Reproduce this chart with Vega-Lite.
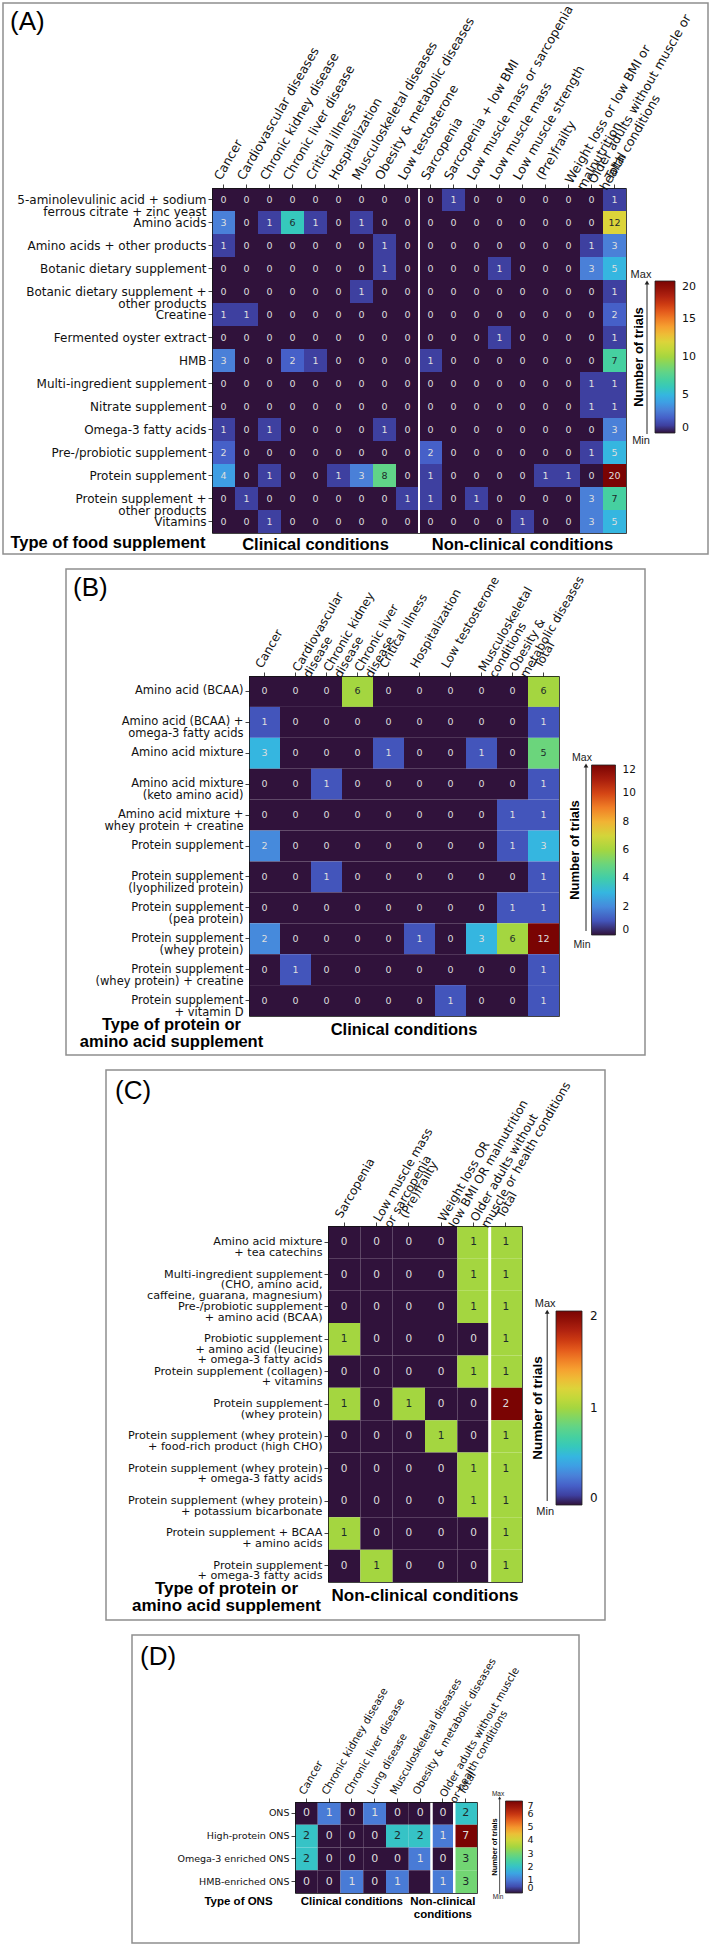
{
  "$schema": "https://vega.github.io/schema/vega-lite/v6.json",
  "background": "white",
  "padding": {"left": 2, "top": 2, "right": 2, "bottom": 0},
  "spacing": 15,
  "center": true,
  "bounds": "flush",
  "resolve": {"scale": {"color": "independent", "x": "independent", "y": "independent"}, "legend": {"color": "independent"}},
  "config": {
    "view": {"stroke": "#8f8f8f", "strokeWidth": 1.5},
    "axis": {"domainColor": "#111", "domainWidth": 0.8, "tickColor": "#111", "tickWidth": 0.8, "labelColor": "#111", "titleColor": "#000", "grid": false},
    "legend": {"labelColor": "#111", "titleColor": "#000"},
    "title": {"color": "#000"}
  },
  "datasets": {
    "A": [
      {"t":"5-aminolevulinic acid + sodium\nferrous citrate + zinc yeast","c":"Cancer","n":0},
      {"t":"5-aminolevulinic acid + sodium\nferrous citrate + zinc yeast","c":"Cardiovascular diseases","n":0},
      {"t":"5-aminolevulinic acid + sodium\nferrous citrate + zinc yeast","c":"Chronic kidney disease","n":0},
      {"t":"5-aminolevulinic acid + sodium\nferrous citrate + zinc yeast","c":"Chronic liver disease","n":0},
      {"t":"5-aminolevulinic acid + sodium\nferrous citrate + zinc yeast","c":"Critical illness","n":0},
      {"t":"5-aminolevulinic acid + sodium\nferrous citrate + zinc yeast","c":"Hospitalization","n":0},
      {"t":"5-aminolevulinic acid + sodium\nferrous citrate + zinc yeast","c":"Musculoskeletal diseases","n":0},
      {"t":"5-aminolevulinic acid + sodium\nferrous citrate + zinc yeast","c":"Obesity & metabolic diseases","n":0},
      {"t":"5-aminolevulinic acid + sodium\nferrous citrate + zinc yeast","c":"Low testosterone","n":0},
      {"t":"5-aminolevulinic acid + sodium\nferrous citrate + zinc yeast","c":"Sarcopenia","n":0},
      {"t":"5-aminolevulinic acid + sodium\nferrous citrate + zinc yeast","c":"Sarcopenia + low BMI","n":1},
      {"t":"5-aminolevulinic acid + sodium\nferrous citrate + zinc yeast","c":"Low muscle mass or sarcopenia","n":0},
      {"t":"5-aminolevulinic acid + sodium\nferrous citrate + zinc yeast","c":"Low muscle mass","n":0},
      {"t":"5-aminolevulinic acid + sodium\nferrous citrate + zinc yeast","c":"Low muscle strength","n":0},
      {"t":"5-aminolevulinic acid + sodium\nferrous citrate + zinc yeast","c":"(Pre)frailty","n":0},
      {"t":"5-aminolevulinic acid + sodium\nferrous citrate + zinc yeast","c":"Weight loss or low BMI or\nmalnutrition","n":0},
      {"t":"5-aminolevulinic acid + sodium\nferrous citrate + zinc yeast","c":"Older adults without muscle or\nhealth conditions","n":0},
      {"t":"5-aminolevulinic acid + sodium\nferrous citrate + zinc yeast","c":"Total","n":1},
      {"t":"Amino acids","c":"Cancer","n":3},
      {"t":"Amino acids","c":"Cardiovascular diseases","n":0},
      {"t":"Amino acids","c":"Chronic kidney disease","n":1},
      {"t":"Amino acids","c":"Chronic liver disease","n":6},
      {"t":"Amino acids","c":"Critical illness","n":1},
      {"t":"Amino acids","c":"Hospitalization","n":0},
      {"t":"Amino acids","c":"Musculoskeletal diseases","n":1},
      {"t":"Amino acids","c":"Obesity & metabolic diseases","n":0},
      {"t":"Amino acids","c":"Low testosterone","n":0},
      {"t":"Amino acids","c":"Sarcopenia","n":0},
      {"t":"Amino acids","c":"Sarcopenia + low BMI","n":0},
      {"t":"Amino acids","c":"Low muscle mass or sarcopenia","n":0},
      {"t":"Amino acids","c":"Low muscle mass","n":0},
      {"t":"Amino acids","c":"Low muscle strength","n":0},
      {"t":"Amino acids","c":"(Pre)frailty","n":0},
      {"t":"Amino acids","c":"Weight loss or low BMI or\nmalnutrition","n":0},
      {"t":"Amino acids","c":"Older adults without muscle or\nhealth conditions","n":0},
      {"t":"Amino acids","c":"Total","n":12},
      {"t":"Amino acids + other products","c":"Cancer","n":1},
      {"t":"Amino acids + other products","c":"Cardiovascular diseases","n":0},
      {"t":"Amino acids + other products","c":"Chronic kidney disease","n":0},
      {"t":"Amino acids + other products","c":"Chronic liver disease","n":0},
      {"t":"Amino acids + other products","c":"Critical illness","n":0},
      {"t":"Amino acids + other products","c":"Hospitalization","n":0},
      {"t":"Amino acids + other products","c":"Musculoskeletal diseases","n":0},
      {"t":"Amino acids + other products","c":"Obesity & metabolic diseases","n":1},
      {"t":"Amino acids + other products","c":"Low testosterone","n":0},
      {"t":"Amino acids + other products","c":"Sarcopenia","n":0},
      {"t":"Amino acids + other products","c":"Sarcopenia + low BMI","n":0},
      {"t":"Amino acids + other products","c":"Low muscle mass or sarcopenia","n":0},
      {"t":"Amino acids + other products","c":"Low muscle mass","n":0},
      {"t":"Amino acids + other products","c":"Low muscle strength","n":0},
      {"t":"Amino acids + other products","c":"(Pre)frailty","n":0},
      {"t":"Amino acids + other products","c":"Weight loss or low BMI or\nmalnutrition","n":0},
      {"t":"Amino acids + other products","c":"Older adults without muscle or\nhealth conditions","n":1},
      {"t":"Amino acids + other products","c":"Total","n":3},
      {"t":"Botanic dietary supplement","c":"Cancer","n":0},
      {"t":"Botanic dietary supplement","c":"Cardiovascular diseases","n":0},
      {"t":"Botanic dietary supplement","c":"Chronic kidney disease","n":0},
      {"t":"Botanic dietary supplement","c":"Chronic liver disease","n":0},
      {"t":"Botanic dietary supplement","c":"Critical illness","n":0},
      {"t":"Botanic dietary supplement","c":"Hospitalization","n":0},
      {"t":"Botanic dietary supplement","c":"Musculoskeletal diseases","n":0},
      {"t":"Botanic dietary supplement","c":"Obesity & metabolic diseases","n":1},
      {"t":"Botanic dietary supplement","c":"Low testosterone","n":0},
      {"t":"Botanic dietary supplement","c":"Sarcopenia","n":0},
      {"t":"Botanic dietary supplement","c":"Sarcopenia + low BMI","n":0},
      {"t":"Botanic dietary supplement","c":"Low muscle mass or sarcopenia","n":0},
      {"t":"Botanic dietary supplement","c":"Low muscle mass","n":1},
      {"t":"Botanic dietary supplement","c":"Low muscle strength","n":0},
      {"t":"Botanic dietary supplement","c":"(Pre)frailty","n":0},
      {"t":"Botanic dietary supplement","c":"Weight loss or low BMI or\nmalnutrition","n":0},
      {"t":"Botanic dietary supplement","c":"Older adults without muscle or\nhealth conditions","n":3},
      {"t":"Botanic dietary supplement","c":"Total","n":5},
      {"t":"Botanic dietary supplement +\nother products","c":"Cancer","n":0},
      {"t":"Botanic dietary supplement +\nother products","c":"Cardiovascular diseases","n":0},
      {"t":"Botanic dietary supplement +\nother products","c":"Chronic kidney disease","n":0},
      {"t":"Botanic dietary supplement +\nother products","c":"Chronic liver disease","n":0},
      {"t":"Botanic dietary supplement +\nother products","c":"Critical illness","n":0},
      {"t":"Botanic dietary supplement +\nother products","c":"Hospitalization","n":0},
      {"t":"Botanic dietary supplement +\nother products","c":"Musculoskeletal diseases","n":1},
      {"t":"Botanic dietary supplement +\nother products","c":"Obesity & metabolic diseases","n":0},
      {"t":"Botanic dietary supplement +\nother products","c":"Low testosterone","n":0},
      {"t":"Botanic dietary supplement +\nother products","c":"Sarcopenia","n":0},
      {"t":"Botanic dietary supplement +\nother products","c":"Sarcopenia + low BMI","n":0},
      {"t":"Botanic dietary supplement +\nother products","c":"Low muscle mass or sarcopenia","n":0},
      {"t":"Botanic dietary supplement +\nother products","c":"Low muscle mass","n":0},
      {"t":"Botanic dietary supplement +\nother products","c":"Low muscle strength","n":0},
      {"t":"Botanic dietary supplement +\nother products","c":"(Pre)frailty","n":0},
      {"t":"Botanic dietary supplement +\nother products","c":"Weight loss or low BMI or\nmalnutrition","n":0},
      {"t":"Botanic dietary supplement +\nother products","c":"Older adults without muscle or\nhealth conditions","n":0},
      {"t":"Botanic dietary supplement +\nother products","c":"Total","n":1},
      {"t":"Creatine","c":"Cancer","n":1},
      {"t":"Creatine","c":"Cardiovascular diseases","n":1},
      {"t":"Creatine","c":"Chronic kidney disease","n":0},
      {"t":"Creatine","c":"Chronic liver disease","n":0},
      {"t":"Creatine","c":"Critical illness","n":0},
      {"t":"Creatine","c":"Hospitalization","n":0},
      {"t":"Creatine","c":"Musculoskeletal diseases","n":0},
      {"t":"Creatine","c":"Obesity & metabolic diseases","n":0},
      {"t":"Creatine","c":"Low testosterone","n":0},
      {"t":"Creatine","c":"Sarcopenia","n":0},
      {"t":"Creatine","c":"Sarcopenia + low BMI","n":0},
      {"t":"Creatine","c":"Low muscle mass or sarcopenia","n":0},
      {"t":"Creatine","c":"Low muscle mass","n":0},
      {"t":"Creatine","c":"Low muscle strength","n":0},
      {"t":"Creatine","c":"(Pre)frailty","n":0},
      {"t":"Creatine","c":"Weight loss or low BMI or\nmalnutrition","n":0},
      {"t":"Creatine","c":"Older adults without muscle or\nhealth conditions","n":0},
      {"t":"Creatine","c":"Total","n":2},
      {"t":"Fermented oyster extract","c":"Cancer","n":0},
      {"t":"Fermented oyster extract","c":"Cardiovascular diseases","n":0},
      {"t":"Fermented oyster extract","c":"Chronic kidney disease","n":0},
      {"t":"Fermented oyster extract","c":"Chronic liver disease","n":0},
      {"t":"Fermented oyster extract","c":"Critical illness","n":0},
      {"t":"Fermented oyster extract","c":"Hospitalization","n":0},
      {"t":"Fermented oyster extract","c":"Musculoskeletal diseases","n":0},
      {"t":"Fermented oyster extract","c":"Obesity & metabolic diseases","n":0},
      {"t":"Fermented oyster extract","c":"Low testosterone","n":0},
      {"t":"Fermented oyster extract","c":"Sarcopenia","n":0},
      {"t":"Fermented oyster extract","c":"Sarcopenia + low BMI","n":0},
      {"t":"Fermented oyster extract","c":"Low muscle mass or sarcopenia","n":0},
      {"t":"Fermented oyster extract","c":"Low muscle mass","n":1},
      {"t":"Fermented oyster extract","c":"Low muscle strength","n":0},
      {"t":"Fermented oyster extract","c":"(Pre)frailty","n":0},
      {"t":"Fermented oyster extract","c":"Weight loss or low BMI or\nmalnutrition","n":0},
      {"t":"Fermented oyster extract","c":"Older adults without muscle or\nhealth conditions","n":0},
      {"t":"Fermented oyster extract","c":"Total","n":1},
      {"t":"HMB","c":"Cancer","n":3},
      {"t":"HMB","c":"Cardiovascular diseases","n":0},
      {"t":"HMB","c":"Chronic kidney disease","n":0},
      {"t":"HMB","c":"Chronic liver disease","n":2},
      {"t":"HMB","c":"Critical illness","n":1},
      {"t":"HMB","c":"Hospitalization","n":0},
      {"t":"HMB","c":"Musculoskeletal diseases","n":0},
      {"t":"HMB","c":"Obesity & metabolic diseases","n":0},
      {"t":"HMB","c":"Low testosterone","n":0},
      {"t":"HMB","c":"Sarcopenia","n":1},
      {"t":"HMB","c":"Sarcopenia + low BMI","n":0},
      {"t":"HMB","c":"Low muscle mass or sarcopenia","n":0},
      {"t":"HMB","c":"Low muscle mass","n":0},
      {"t":"HMB","c":"Low muscle strength","n":0},
      {"t":"HMB","c":"(Pre)frailty","n":0},
      {"t":"HMB","c":"Weight loss or low BMI or\nmalnutrition","n":0},
      {"t":"HMB","c":"Older adults without muscle or\nhealth conditions","n":0},
      {"t":"HMB","c":"Total","n":7},
      {"t":"Multi-ingredient supplement","c":"Cancer","n":0},
      {"t":"Multi-ingredient supplement","c":"Cardiovascular diseases","n":0},
      {"t":"Multi-ingredient supplement","c":"Chronic kidney disease","n":0},
      {"t":"Multi-ingredient supplement","c":"Chronic liver disease","n":0},
      {"t":"Multi-ingredient supplement","c":"Critical illness","n":0},
      {"t":"Multi-ingredient supplement","c":"Hospitalization","n":0},
      {"t":"Multi-ingredient supplement","c":"Musculoskeletal diseases","n":0},
      {"t":"Multi-ingredient supplement","c":"Obesity & metabolic diseases","n":0},
      {"t":"Multi-ingredient supplement","c":"Low testosterone","n":0},
      {"t":"Multi-ingredient supplement","c":"Sarcopenia","n":0},
      {"t":"Multi-ingredient supplement","c":"Sarcopenia + low BMI","n":0},
      {"t":"Multi-ingredient supplement","c":"Low muscle mass or sarcopenia","n":0},
      {"t":"Multi-ingredient supplement","c":"Low muscle mass","n":0},
      {"t":"Multi-ingredient supplement","c":"Low muscle strength","n":0},
      {"t":"Multi-ingredient supplement","c":"(Pre)frailty","n":0},
      {"t":"Multi-ingredient supplement","c":"Weight loss or low BMI or\nmalnutrition","n":0},
      {"t":"Multi-ingredient supplement","c":"Older adults without muscle or\nhealth conditions","n":1},
      {"t":"Multi-ingredient supplement","c":"Total","n":1},
      {"t":"Nitrate supplement","c":"Cancer","n":0},
      {"t":"Nitrate supplement","c":"Cardiovascular diseases","n":0},
      {"t":"Nitrate supplement","c":"Chronic kidney disease","n":0},
      {"t":"Nitrate supplement","c":"Chronic liver disease","n":0},
      {"t":"Nitrate supplement","c":"Critical illness","n":0},
      {"t":"Nitrate supplement","c":"Hospitalization","n":0},
      {"t":"Nitrate supplement","c":"Musculoskeletal diseases","n":0},
      {"t":"Nitrate supplement","c":"Obesity & metabolic diseases","n":0},
      {"t":"Nitrate supplement","c":"Low testosterone","n":0},
      {"t":"Nitrate supplement","c":"Sarcopenia","n":0},
      {"t":"Nitrate supplement","c":"Sarcopenia + low BMI","n":0},
      {"t":"Nitrate supplement","c":"Low muscle mass or sarcopenia","n":0},
      {"t":"Nitrate supplement","c":"Low muscle mass","n":0},
      {"t":"Nitrate supplement","c":"Low muscle strength","n":0},
      {"t":"Nitrate supplement","c":"(Pre)frailty","n":0},
      {"t":"Nitrate supplement","c":"Weight loss or low BMI or\nmalnutrition","n":0},
      {"t":"Nitrate supplement","c":"Older adults without muscle or\nhealth conditions","n":1},
      {"t":"Nitrate supplement","c":"Total","n":1},
      {"t":"Omega-3 fatty acids","c":"Cancer","n":1},
      {"t":"Omega-3 fatty acids","c":"Cardiovascular diseases","n":0},
      {"t":"Omega-3 fatty acids","c":"Chronic kidney disease","n":1},
      {"t":"Omega-3 fatty acids","c":"Chronic liver disease","n":0},
      {"t":"Omega-3 fatty acids","c":"Critical illness","n":0},
      {"t":"Omega-3 fatty acids","c":"Hospitalization","n":0},
      {"t":"Omega-3 fatty acids","c":"Musculoskeletal diseases","n":0},
      {"t":"Omega-3 fatty acids","c":"Obesity & metabolic diseases","n":1},
      {"t":"Omega-3 fatty acids","c":"Low testosterone","n":0},
      {"t":"Omega-3 fatty acids","c":"Sarcopenia","n":0},
      {"t":"Omega-3 fatty acids","c":"Sarcopenia + low BMI","n":0},
      {"t":"Omega-3 fatty acids","c":"Low muscle mass or sarcopenia","n":0},
      {"t":"Omega-3 fatty acids","c":"Low muscle mass","n":0},
      {"t":"Omega-3 fatty acids","c":"Low muscle strength","n":0},
      {"t":"Omega-3 fatty acids","c":"(Pre)frailty","n":0},
      {"t":"Omega-3 fatty acids","c":"Weight loss or low BMI or\nmalnutrition","n":0},
      {"t":"Omega-3 fatty acids","c":"Older adults without muscle or\nhealth conditions","n":0},
      {"t":"Omega-3 fatty acids","c":"Total","n":3},
      {"t":"Pre-/probiotic supplement","c":"Cancer","n":2},
      {"t":"Pre-/probiotic supplement","c":"Cardiovascular diseases","n":0},
      {"t":"Pre-/probiotic supplement","c":"Chronic kidney disease","n":0},
      {"t":"Pre-/probiotic supplement","c":"Chronic liver disease","n":0},
      {"t":"Pre-/probiotic supplement","c":"Critical illness","n":0},
      {"t":"Pre-/probiotic supplement","c":"Hospitalization","n":0},
      {"t":"Pre-/probiotic supplement","c":"Musculoskeletal diseases","n":0},
      {"t":"Pre-/probiotic supplement","c":"Obesity & metabolic diseases","n":0},
      {"t":"Pre-/probiotic supplement","c":"Low testosterone","n":0},
      {"t":"Pre-/probiotic supplement","c":"Sarcopenia","n":2},
      {"t":"Pre-/probiotic supplement","c":"Sarcopenia + low BMI","n":0},
      {"t":"Pre-/probiotic supplement","c":"Low muscle mass or sarcopenia","n":0},
      {"t":"Pre-/probiotic supplement","c":"Low muscle mass","n":0},
      {"t":"Pre-/probiotic supplement","c":"Low muscle strength","n":0},
      {"t":"Pre-/probiotic supplement","c":"(Pre)frailty","n":0},
      {"t":"Pre-/probiotic supplement","c":"Weight loss or low BMI or\nmalnutrition","n":0},
      {"t":"Pre-/probiotic supplement","c":"Older adults without muscle or\nhealth conditions","n":1},
      {"t":"Pre-/probiotic supplement","c":"Total","n":5},
      {"t":"Protein supplement","c":"Cancer","n":4},
      {"t":"Protein supplement","c":"Cardiovascular diseases","n":0},
      {"t":"Protein supplement","c":"Chronic kidney disease","n":1},
      {"t":"Protein supplement","c":"Chronic liver disease","n":0},
      {"t":"Protein supplement","c":"Critical illness","n":0},
      {"t":"Protein supplement","c":"Hospitalization","n":1},
      {"t":"Protein supplement","c":"Musculoskeletal diseases","n":3},
      {"t":"Protein supplement","c":"Obesity & metabolic diseases","n":8},
      {"t":"Protein supplement","c":"Low testosterone","n":0},
      {"t":"Protein supplement","c":"Sarcopenia","n":1},
      {"t":"Protein supplement","c":"Sarcopenia + low BMI","n":0},
      {"t":"Protein supplement","c":"Low muscle mass or sarcopenia","n":0},
      {"t":"Protein supplement","c":"Low muscle mass","n":0},
      {"t":"Protein supplement","c":"Low muscle strength","n":0},
      {"t":"Protein supplement","c":"(Pre)frailty","n":1},
      {"t":"Protein supplement","c":"Weight loss or low BMI or\nmalnutrition","n":1},
      {"t":"Protein supplement","c":"Older adults without muscle or\nhealth conditions","n":0},
      {"t":"Protein supplement","c":"Total","n":20},
      {"t":"Protein supplement +\nother products","c":"Cancer","n":0},
      {"t":"Protein supplement +\nother products","c":"Cardiovascular diseases","n":1},
      {"t":"Protein supplement +\nother products","c":"Chronic kidney disease","n":0},
      {"t":"Protein supplement +\nother products","c":"Chronic liver disease","n":0},
      {"t":"Protein supplement +\nother products","c":"Critical illness","n":0},
      {"t":"Protein supplement +\nother products","c":"Hospitalization","n":0},
      {"t":"Protein supplement +\nother products","c":"Musculoskeletal diseases","n":0},
      {"t":"Protein supplement +\nother products","c":"Obesity & metabolic diseases","n":0},
      {"t":"Protein supplement +\nother products","c":"Low testosterone","n":1},
      {"t":"Protein supplement +\nother products","c":"Sarcopenia","n":1},
      {"t":"Protein supplement +\nother products","c":"Sarcopenia + low BMI","n":0},
      {"t":"Protein supplement +\nother products","c":"Low muscle mass or sarcopenia","n":1},
      {"t":"Protein supplement +\nother products","c":"Low muscle mass","n":0},
      {"t":"Protein supplement +\nother products","c":"Low muscle strength","n":0},
      {"t":"Protein supplement +\nother products","c":"(Pre)frailty","n":0},
      {"t":"Protein supplement +\nother products","c":"Weight loss or low BMI or\nmalnutrition","n":0},
      {"t":"Protein supplement +\nother products","c":"Older adults without muscle or\nhealth conditions","n":3},
      {"t":"Protein supplement +\nother products","c":"Total","n":7},
      {"t":"Vitamins","c":"Cancer","n":0},
      {"t":"Vitamins","c":"Cardiovascular diseases","n":0},
      {"t":"Vitamins","c":"Chronic kidney disease","n":1},
      {"t":"Vitamins","c":"Chronic liver disease","n":0},
      {"t":"Vitamins","c":"Critical illness","n":0},
      {"t":"Vitamins","c":"Hospitalization","n":0},
      {"t":"Vitamins","c":"Musculoskeletal diseases","n":0},
      {"t":"Vitamins","c":"Obesity & metabolic diseases","n":0},
      {"t":"Vitamins","c":"Low testosterone","n":0},
      {"t":"Vitamins","c":"Sarcopenia","n":0},
      {"t":"Vitamins","c":"Sarcopenia + low BMI","n":0},
      {"t":"Vitamins","c":"Low muscle mass or sarcopenia","n":0},
      {"t":"Vitamins","c":"Low muscle mass","n":0},
      {"t":"Vitamins","c":"Low muscle strength","n":1},
      {"t":"Vitamins","c":"(Pre)frailty","n":0},
      {"t":"Vitamins","c":"Weight loss or low BMI or\nmalnutrition","n":0},
      {"t":"Vitamins","c":"Older adults without muscle or\nhealth conditions","n":3},
      {"t":"Vitamins","c":"Total","n":5}
    ],
    "B": [
      {"t":"Amino acid (BCAA)","c":"Cancer","n":0},
      {"t":"Amino acid (BCAA)","c":"Cardiovascular\ndisease","n":0},
      {"t":"Amino acid (BCAA)","c":"Chronic kidney\ndisease","n":0},
      {"t":"Amino acid (BCAA)","c":"Chronic liver\ndisease","n":6},
      {"t":"Amino acid (BCAA)","c":"Critical illness","n":0},
      {"t":"Amino acid (BCAA)","c":"Hospitalization","n":0},
      {"t":"Amino acid (BCAA)","c":"Low testosterone","n":0},
      {"t":"Amino acid (BCAA)","c":"Musculoskeletal\nconditions","n":0},
      {"t":"Amino acid (BCAA)","c":"Obesity &\nmetabolic diseases","n":0},
      {"t":"Amino acid (BCAA)","c":"Total","n":6},
      {"t":"Amino acid (BCAA) +\nomega-3 fatty acids","c":"Cancer","n":1},
      {"t":"Amino acid (BCAA) +\nomega-3 fatty acids","c":"Cardiovascular\ndisease","n":0},
      {"t":"Amino acid (BCAA) +\nomega-3 fatty acids","c":"Chronic kidney\ndisease","n":0},
      {"t":"Amino acid (BCAA) +\nomega-3 fatty acids","c":"Chronic liver\ndisease","n":0},
      {"t":"Amino acid (BCAA) +\nomega-3 fatty acids","c":"Critical illness","n":0},
      {"t":"Amino acid (BCAA) +\nomega-3 fatty acids","c":"Hospitalization","n":0},
      {"t":"Amino acid (BCAA) +\nomega-3 fatty acids","c":"Low testosterone","n":0},
      {"t":"Amino acid (BCAA) +\nomega-3 fatty acids","c":"Musculoskeletal\nconditions","n":0},
      {"t":"Amino acid (BCAA) +\nomega-3 fatty acids","c":"Obesity &\nmetabolic diseases","n":0},
      {"t":"Amino acid (BCAA) +\nomega-3 fatty acids","c":"Total","n":1},
      {"t":"Amino acid mixture","c":"Cancer","n":3},
      {"t":"Amino acid mixture","c":"Cardiovascular\ndisease","n":0},
      {"t":"Amino acid mixture","c":"Chronic kidney\ndisease","n":0},
      {"t":"Amino acid mixture","c":"Chronic liver\ndisease","n":0},
      {"t":"Amino acid mixture","c":"Critical illness","n":1},
      {"t":"Amino acid mixture","c":"Hospitalization","n":0},
      {"t":"Amino acid mixture","c":"Low testosterone","n":0},
      {"t":"Amino acid mixture","c":"Musculoskeletal\nconditions","n":1},
      {"t":"Amino acid mixture","c":"Obesity &\nmetabolic diseases","n":0},
      {"t":"Amino acid mixture","c":"Total","n":5},
      {"t":"Amino acid mixture\n(keto amino acid)","c":"Cancer","n":0},
      {"t":"Amino acid mixture\n(keto amino acid)","c":"Cardiovascular\ndisease","n":0},
      {"t":"Amino acid mixture\n(keto amino acid)","c":"Chronic kidney\ndisease","n":1},
      {"t":"Amino acid mixture\n(keto amino acid)","c":"Chronic liver\ndisease","n":0},
      {"t":"Amino acid mixture\n(keto amino acid)","c":"Critical illness","n":0},
      {"t":"Amino acid mixture\n(keto amino acid)","c":"Hospitalization","n":0},
      {"t":"Amino acid mixture\n(keto amino acid)","c":"Low testosterone","n":0},
      {"t":"Amino acid mixture\n(keto amino acid)","c":"Musculoskeletal\nconditions","n":0},
      {"t":"Amino acid mixture\n(keto amino acid)","c":"Obesity &\nmetabolic diseases","n":0},
      {"t":"Amino acid mixture\n(keto amino acid)","c":"Total","n":1},
      {"t":"Amino acid mixture +\nwhey protein + creatine","c":"Cancer","n":0},
      {"t":"Amino acid mixture +\nwhey protein + creatine","c":"Cardiovascular\ndisease","n":0},
      {"t":"Amino acid mixture +\nwhey protein + creatine","c":"Chronic kidney\ndisease","n":0},
      {"t":"Amino acid mixture +\nwhey protein + creatine","c":"Chronic liver\ndisease","n":0},
      {"t":"Amino acid mixture +\nwhey protein + creatine","c":"Critical illness","n":0},
      {"t":"Amino acid mixture +\nwhey protein + creatine","c":"Hospitalization","n":0},
      {"t":"Amino acid mixture +\nwhey protein + creatine","c":"Low testosterone","n":0},
      {"t":"Amino acid mixture +\nwhey protein + creatine","c":"Musculoskeletal\nconditions","n":0},
      {"t":"Amino acid mixture +\nwhey protein + creatine","c":"Obesity &\nmetabolic diseases","n":1},
      {"t":"Amino acid mixture +\nwhey protein + creatine","c":"Total","n":1},
      {"t":"Protein supplement","c":"Cancer","n":2},
      {"t":"Protein supplement","c":"Cardiovascular\ndisease","n":0},
      {"t":"Protein supplement","c":"Chronic kidney\ndisease","n":0},
      {"t":"Protein supplement","c":"Chronic liver\ndisease","n":0},
      {"t":"Protein supplement","c":"Critical illness","n":0},
      {"t":"Protein supplement","c":"Hospitalization","n":0},
      {"t":"Protein supplement","c":"Low testosterone","n":0},
      {"t":"Protein supplement","c":"Musculoskeletal\nconditions","n":0},
      {"t":"Protein supplement","c":"Obesity &\nmetabolic diseases","n":1},
      {"t":"Protein supplement","c":"Total","n":3},
      {"t":"Protein supplement\n(lyophilized protein)","c":"Cancer","n":0},
      {"t":"Protein supplement\n(lyophilized protein)","c":"Cardiovascular\ndisease","n":0},
      {"t":"Protein supplement\n(lyophilized protein)","c":"Chronic kidney\ndisease","n":1},
      {"t":"Protein supplement\n(lyophilized protein)","c":"Chronic liver\ndisease","n":0},
      {"t":"Protein supplement\n(lyophilized protein)","c":"Critical illness","n":0},
      {"t":"Protein supplement\n(lyophilized protein)","c":"Hospitalization","n":0},
      {"t":"Protein supplement\n(lyophilized protein)","c":"Low testosterone","n":0},
      {"t":"Protein supplement\n(lyophilized protein)","c":"Musculoskeletal\nconditions","n":0},
      {"t":"Protein supplement\n(lyophilized protein)","c":"Obesity &\nmetabolic diseases","n":0},
      {"t":"Protein supplement\n(lyophilized protein)","c":"Total","n":1},
      {"t":"Protein supplement\n(pea protein)","c":"Cancer","n":0},
      {"t":"Protein supplement\n(pea protein)","c":"Cardiovascular\ndisease","n":0},
      {"t":"Protein supplement\n(pea protein)","c":"Chronic kidney\ndisease","n":0},
      {"t":"Protein supplement\n(pea protein)","c":"Chronic liver\ndisease","n":0},
      {"t":"Protein supplement\n(pea protein)","c":"Critical illness","n":0},
      {"t":"Protein supplement\n(pea protein)","c":"Hospitalization","n":0},
      {"t":"Protein supplement\n(pea protein)","c":"Low testosterone","n":0},
      {"t":"Protein supplement\n(pea protein)","c":"Musculoskeletal\nconditions","n":0},
      {"t":"Protein supplement\n(pea protein)","c":"Obesity &\nmetabolic diseases","n":1},
      {"t":"Protein supplement\n(pea protein)","c":"Total","n":1},
      {"t":"Protein supplement\n(whey protein)","c":"Cancer","n":2},
      {"t":"Protein supplement\n(whey protein)","c":"Cardiovascular\ndisease","n":0},
      {"t":"Protein supplement\n(whey protein)","c":"Chronic kidney\ndisease","n":0},
      {"t":"Protein supplement\n(whey protein)","c":"Chronic liver\ndisease","n":0},
      {"t":"Protein supplement\n(whey protein)","c":"Critical illness","n":0},
      {"t":"Protein supplement\n(whey protein)","c":"Hospitalization","n":1},
      {"t":"Protein supplement\n(whey protein)","c":"Low testosterone","n":0},
      {"t":"Protein supplement\n(whey protein)","c":"Musculoskeletal\nconditions","n":3},
      {"t":"Protein supplement\n(whey protein)","c":"Obesity &\nmetabolic diseases","n":6},
      {"t":"Protein supplement\n(whey protein)","c":"Total","n":12},
      {"t":"Protein supplement\n(whey protein) + creatine","c":"Cancer","n":0},
      {"t":"Protein supplement\n(whey protein) + creatine","c":"Cardiovascular\ndisease","n":1},
      {"t":"Protein supplement\n(whey protein) + creatine","c":"Chronic kidney\ndisease","n":0},
      {"t":"Protein supplement\n(whey protein) + creatine","c":"Chronic liver\ndisease","n":0},
      {"t":"Protein supplement\n(whey protein) + creatine","c":"Critical illness","n":0},
      {"t":"Protein supplement\n(whey protein) + creatine","c":"Hospitalization","n":0},
      {"t":"Protein supplement\n(whey protein) + creatine","c":"Low testosterone","n":0},
      {"t":"Protein supplement\n(whey protein) + creatine","c":"Musculoskeletal\nconditions","n":0},
      {"t":"Protein supplement\n(whey protein) + creatine","c":"Obesity &\nmetabolic diseases","n":0},
      {"t":"Protein supplement\n(whey protein) + creatine","c":"Total","n":1},
      {"t":"Protein supplement\n+ vitamin D","c":"Cancer","n":0},
      {"t":"Protein supplement\n+ vitamin D","c":"Cardiovascular\ndisease","n":0},
      {"t":"Protein supplement\n+ vitamin D","c":"Chronic kidney\ndisease","n":0},
      {"t":"Protein supplement\n+ vitamin D","c":"Chronic liver\ndisease","n":0},
      {"t":"Protein supplement\n+ vitamin D","c":"Critical illness","n":0},
      {"t":"Protein supplement\n+ vitamin D","c":"Hospitalization","n":0},
      {"t":"Protein supplement\n+ vitamin D","c":"Low testosterone","n":1},
      {"t":"Protein supplement\n+ vitamin D","c":"Musculoskeletal\nconditions","n":0},
      {"t":"Protein supplement\n+ vitamin D","c":"Obesity &\nmetabolic diseases","n":0},
      {"t":"Protein supplement\n+ vitamin D","c":"Total","n":1}
    ],
    "C": [
      {"t":"Amino acid mixture\n+ tea catechins","c":"Sarcopenia","n":0},
      {"t":"Amino acid mixture\n+ tea catechins","c":"Low muscle mass\nor sarcopenia","n":0},
      {"t":"Amino acid mixture\n+ tea catechins","c":"(Pre)frailty","n":0},
      {"t":"Amino acid mixture\n+ tea catechins","c":"Weight loss OR\nlow BMI OR malnutrition","n":0},
      {"t":"Amino acid mixture\n+ tea catechins","c":"Older adults without\nmuscle or health conditions","n":1},
      {"t":"Amino acid mixture\n+ tea catechins","c":"Total","n":1},
      {"t":"Multi-ingredient supplement\n(CHO, amino acid,\ncaffeine, guarana, magnesium)","c":"Sarcopenia","n":0},
      {"t":"Multi-ingredient supplement\n(CHO, amino acid,\ncaffeine, guarana, magnesium)","c":"Low muscle mass\nor sarcopenia","n":0},
      {"t":"Multi-ingredient supplement\n(CHO, amino acid,\ncaffeine, guarana, magnesium)","c":"(Pre)frailty","n":0},
      {"t":"Multi-ingredient supplement\n(CHO, amino acid,\ncaffeine, guarana, magnesium)","c":"Weight loss OR\nlow BMI OR malnutrition","n":0},
      {"t":"Multi-ingredient supplement\n(CHO, amino acid,\ncaffeine, guarana, magnesium)","c":"Older adults without\nmuscle or health conditions","n":1},
      {"t":"Multi-ingredient supplement\n(CHO, amino acid,\ncaffeine, guarana, magnesium)","c":"Total","n":1},
      {"t":"Pre-/probiotic supplement\n+ amino acid (BCAA)","c":"Sarcopenia","n":0},
      {"t":"Pre-/probiotic supplement\n+ amino acid (BCAA)","c":"Low muscle mass\nor sarcopenia","n":0},
      {"t":"Pre-/probiotic supplement\n+ amino acid (BCAA)","c":"(Pre)frailty","n":0},
      {"t":"Pre-/probiotic supplement\n+ amino acid (BCAA)","c":"Weight loss OR\nlow BMI OR malnutrition","n":0},
      {"t":"Pre-/probiotic supplement\n+ amino acid (BCAA)","c":"Older adults without\nmuscle or health conditions","n":1},
      {"t":"Pre-/probiotic supplement\n+ amino acid (BCAA)","c":"Total","n":1},
      {"t":"Probiotic supplement\n+ amino acid (leucine)\n+ omega-3 fatty acids","c":"Sarcopenia","n":1},
      {"t":"Probiotic supplement\n+ amino acid (leucine)\n+ omega-3 fatty acids","c":"Low muscle mass\nor sarcopenia","n":0},
      {"t":"Probiotic supplement\n+ amino acid (leucine)\n+ omega-3 fatty acids","c":"(Pre)frailty","n":0},
      {"t":"Probiotic supplement\n+ amino acid (leucine)\n+ omega-3 fatty acids","c":"Weight loss OR\nlow BMI OR malnutrition","n":0},
      {"t":"Probiotic supplement\n+ amino acid (leucine)\n+ omega-3 fatty acids","c":"Older adults without\nmuscle or health conditions","n":0},
      {"t":"Probiotic supplement\n+ amino acid (leucine)\n+ omega-3 fatty acids","c":"Total","n":1},
      {"t":"Protein supplement (collagen)\n+ vitamins","c":"Sarcopenia","n":0},
      {"t":"Protein supplement (collagen)\n+ vitamins","c":"Low muscle mass\nor sarcopenia","n":0},
      {"t":"Protein supplement (collagen)\n+ vitamins","c":"(Pre)frailty","n":0},
      {"t":"Protein supplement (collagen)\n+ vitamins","c":"Weight loss OR\nlow BMI OR malnutrition","n":0},
      {"t":"Protein supplement (collagen)\n+ vitamins","c":"Older adults without\nmuscle or health conditions","n":1},
      {"t":"Protein supplement (collagen)\n+ vitamins","c":"Total","n":1},
      {"t":"Protein supplement\n(whey protein)","c":"Sarcopenia","n":1},
      {"t":"Protein supplement\n(whey protein)","c":"Low muscle mass\nor sarcopenia","n":0},
      {"t":"Protein supplement\n(whey protein)","c":"(Pre)frailty","n":1},
      {"t":"Protein supplement\n(whey protein)","c":"Weight loss OR\nlow BMI OR malnutrition","n":0},
      {"t":"Protein supplement\n(whey protein)","c":"Older adults without\nmuscle or health conditions","n":0},
      {"t":"Protein supplement\n(whey protein)","c":"Total","n":2},
      {"t":"Protein supplement (whey protein)\n+ food-rich product (high CHO)","c":"Sarcopenia","n":0},
      {"t":"Protein supplement (whey protein)\n+ food-rich product (high CHO)","c":"Low muscle mass\nor sarcopenia","n":0},
      {"t":"Protein supplement (whey protein)\n+ food-rich product (high CHO)","c":"(Pre)frailty","n":0},
      {"t":"Protein supplement (whey protein)\n+ food-rich product (high CHO)","c":"Weight loss OR\nlow BMI OR malnutrition","n":1},
      {"t":"Protein supplement (whey protein)\n+ food-rich product (high CHO)","c":"Older adults without\nmuscle or health conditions","n":0},
      {"t":"Protein supplement (whey protein)\n+ food-rich product (high CHO)","c":"Total","n":1},
      {"t":"Protein supplement (whey protein)\n+ omega-3 fatty acids","c":"Sarcopenia","n":0},
      {"t":"Protein supplement (whey protein)\n+ omega-3 fatty acids","c":"Low muscle mass\nor sarcopenia","n":0},
      {"t":"Protein supplement (whey protein)\n+ omega-3 fatty acids","c":"(Pre)frailty","n":0},
      {"t":"Protein supplement (whey protein)\n+ omega-3 fatty acids","c":"Weight loss OR\nlow BMI OR malnutrition","n":0},
      {"t":"Protein supplement (whey protein)\n+ omega-3 fatty acids","c":"Older adults without\nmuscle or health conditions","n":1},
      {"t":"Protein supplement (whey protein)\n+ omega-3 fatty acids","c":"Total","n":1},
      {"t":"Protein supplement (whey protein)\n+ potassium bicarbonate","c":"Sarcopenia","n":0},
      {"t":"Protein supplement (whey protein)\n+ potassium bicarbonate","c":"Low muscle mass\nor sarcopenia","n":0},
      {"t":"Protein supplement (whey protein)\n+ potassium bicarbonate","c":"(Pre)frailty","n":0},
      {"t":"Protein supplement (whey protein)\n+ potassium bicarbonate","c":"Weight loss OR\nlow BMI OR malnutrition","n":0},
      {"t":"Protein supplement (whey protein)\n+ potassium bicarbonate","c":"Older adults without\nmuscle or health conditions","n":1},
      {"t":"Protein supplement (whey protein)\n+ potassium bicarbonate","c":"Total","n":1},
      {"t":"Protein supplement + BCAA\n+ amino acids","c":"Sarcopenia","n":1},
      {"t":"Protein supplement + BCAA\n+ amino acids","c":"Low muscle mass\nor sarcopenia","n":0},
      {"t":"Protein supplement + BCAA\n+ amino acids","c":"(Pre)frailty","n":0},
      {"t":"Protein supplement + BCAA\n+ amino acids","c":"Weight loss OR\nlow BMI OR malnutrition","n":0},
      {"t":"Protein supplement + BCAA\n+ amino acids","c":"Older adults without\nmuscle or health conditions","n":0},
      {"t":"Protein supplement + BCAA\n+ amino acids","c":"Total","n":1},
      {"t":"Protein supplement\n+ omega-3 fatty acids","c":"Sarcopenia","n":0},
      {"t":"Protein supplement\n+ omega-3 fatty acids","c":"Low muscle mass\nor sarcopenia","n":1},
      {"t":"Protein supplement\n+ omega-3 fatty acids","c":"(Pre)frailty","n":0},
      {"t":"Protein supplement\n+ omega-3 fatty acids","c":"Weight loss OR\nlow BMI OR malnutrition","n":0},
      {"t":"Protein supplement\n+ omega-3 fatty acids","c":"Older adults without\nmuscle or health conditions","n":0},
      {"t":"Protein supplement\n+ omega-3 fatty acids","c":"Total","n":1}
    ],
    "D": [
      {"t":"ONS","c":"Cancer","n":0},
      {"t":"ONS","c":"Chronic kidney disease","n":1},
      {"t":"ONS","c":"Chronic liver disease","n":0},
      {"t":"ONS","c":"Lung disease","n":1},
      {"t":"ONS","c":"Musculoskeletal diseases","n":0},
      {"t":"ONS","c":"Obesity & metabolic diseases","n":0},
      {"t":"ONS","c":"Older adults without muscle\nor health conditions","n":0},
      {"t":"ONS","c":"Total","n":2},
      {"t":"High-protein ONS","c":"Cancer","n":2},
      {"t":"High-protein ONS","c":"Chronic kidney disease","n":0},
      {"t":"High-protein ONS","c":"Chronic liver disease","n":0},
      {"t":"High-protein ONS","c":"Lung disease","n":0},
      {"t":"High-protein ONS","c":"Musculoskeletal diseases","n":2},
      {"t":"High-protein ONS","c":"Obesity & metabolic diseases","n":2},
      {"t":"High-protein ONS","c":"Older adults without muscle\nor health conditions","n":1},
      {"t":"High-protein ONS","c":"Total","n":7},
      {"t":"Omega-3 enriched ONS","c":"Cancer","n":2},
      {"t":"Omega-3 enriched ONS","c":"Chronic kidney disease","n":0},
      {"t":"Omega-3 enriched ONS","c":"Chronic liver disease","n":0},
      {"t":"Omega-3 enriched ONS","c":"Lung disease","n":0},
      {"t":"Omega-3 enriched ONS","c":"Musculoskeletal diseases","n":0},
      {"t":"Omega-3 enriched ONS","c":"Obesity & metabolic diseases","n":1},
      {"t":"Omega-3 enriched ONS","c":"Older adults without muscle\nor health conditions","n":0},
      {"t":"Omega-3 enriched ONS","c":"Total","n":3},
      {"t":"HMB-enriched ONS","c":"Cancer","n":0},
      {"t":"HMB-enriched ONS","c":"Chronic kidney disease","n":0},
      {"t":"HMB-enriched ONS","c":"Chronic liver disease","n":1},
      {"t":"HMB-enriched ONS","c":"Lung disease","n":0},
      {"t":"HMB-enriched ONS","c":"Musculoskeletal diseases","n":1},
      {"t":"HMB-enriched ONS","c":"Obesity & metabolic diseases","n":0,"blank":true},
      {"t":"HMB-enriched ONS","c":"Older adults without muscle\nor health conditions","n":1},
      {"t":"HMB-enriched ONS","c":"Total","n":3}
    ]
  },
  "vconcat": [
    {
      "width": 705, "height": 551,
      "title": {"text": "(A)", "anchor": "start", "frame": "group", "offset": -32, "dx": 7, "fontSize": 26, "fontWeight": "normal", "font": "Liberation Sans"},
      "data": {"name": "A"},
      "resolve": {"axis": {"x": "independent", "y": "independent"}},
      "layer": [
        {
          "mark": {"type": "rect"},
          "encoding": {
            "x": {"field": "c", "type": "nominal",
              "scale": {"domain": ["Cancer","Cardiovascular diseases","Chronic kidney disease","Chronic liver disease","Critical illness","Hospitalization","Musculoskeletal diseases","Obesity & metabolic diseases","Low testosterone","Sarcopenia","Sarcopenia + low BMI","Low muscle mass or sarcopenia","Low muscle mass","Low muscle strength","(Pre)frailty","Weight loss or low BMI or\nmalnutrition","Older adults without muscle or\nhealth conditions","Total"], "range": [209, 623], "paddingInner": 0, "paddingOuter": 0},
              "axis": {"orient": "top", "offset": -185, "title": null, "labelAngle": -60, "labelAlign": "left", "labelBaseline": {"condition": {"test": "indexof(datum.value, '\\n') >= 0", "value": "middle"}, "value": "bottom"}, "labelFont": "DejaVu Sans", "labelFontSize": 12.5, "labelLineHeight": 13.5, "labelPadding": 2, "tickSize": 4, "labelLimit": 1000, "labelExpr": "split(replace(datum.label, '\\n', '\\n' + pad('', 20, '\u00a0')), '\\n')"}},
            "y": {"field": "t", "type": "nominal",
              "scale": {"domain": ["5-aminolevulinic acid + sodium\nferrous citrate + zinc yeast","Amino acids","Amino acids + other products","Botanic dietary supplement","Botanic dietary supplement +\nother products","Creatine","Fermented oyster extract","HMB","Multi-ingredient supplement","Nitrate supplement","Omega-3 fatty acids","Pre-/probiotic supplement","Protein supplement","Protein supplement +\nother products","Vitamins"], "range": [185, 530], "paddingInner": 0, "paddingOuter": 0},
              "axis": {"orient": "left", "offset": -209, "title": "Type of food supplement", "titleAngle": 0, "titleAlign": "left", "titleBaseline": "middle", "titleX": -202, "titleY": 539, "titleFont": "Liberation Sans", "titleFontSize": 16.5, "titleFontWeight": "bold", "labelFont": "DejaVu Sans", "labelFontSize": 12, "labelLineHeight": 12.5, "labelPadding": 2, "tickSize": 4, "labelLimit": 1000, "labelExpr": "split(datum.label, '\\n')"}},
            "color": {"field": "n", "type": "quantitative",
              "scale": {"domain": [0, 20], "interpolate": "rgb", "range": ["#30123b","#3e40a0","#4660c8","#4a80d8","#3e9ee4","#35b6e0","#36c8bc","#46d0a0","#60d488","#80d664","#a4d640","#c2d83a","#dcd43a","#eebc36","#f6a030","#f07e26","#e45a1c","#cc3a12","#b02210","#941208","#7a0403"]},
              "legend": {"orient": "none", "legendX": 630, "legendY": 278, "direction": "vertical", "title": "Number of trials", "titleOrient": "left", "titleAnchor": "middle", "titleFont": "Liberation Sans", "titleFontSize": 13, "titleFontWeight": "bold", "titlePadding": 8, "gradientLength": 152, "gradientThickness": 20, "gradientStrokeColor": "#222", "gradientStrokeWidth": 0.8, "values": [0, 5, 10, 15, 20], "labelFont": "DejaVu Sans", "labelFontSize": 11, "labelOffset": 7, "labelOverlap": false, "padding": 0}}
          }
        },
        {
          "mark": {"type": "text", "font": "DejaVu Sans", "fontSize": 9.5},
          "encoding": {
            "x": {"field": "c", "type": "nominal", "axis": {"orient": "bottom", "offset": -21, "values": ["Critical illness", "Low muscle strength"], "labelExpr": "datum.value == 'Critical illness' ? 'Clinical conditions' : 'Non-clinical conditions'", "ticks": false, "title": null, "labelAngle": 0, "labelAlign": "center", "labelBaseline": "top", "labelPadding": 3, "labelLimit": 1000, "labelFont": "Liberation Sans", "labelFontSize": 16.5, "labelFontWeight": "bold", "labelColor": "#000"}},
            "y": {"field": "t", "type": "nominal", "axis": {"orient": "right", "offset": -82, "labels": false, "ticks": false, "title": null}},
            "text": {"field": "n", "type": "quantitative"},
            "color": {"condition": {"test": "datum.n >= 6 && datum.n <= 16", "value": "#1d2b2b"}, "value": "#dedede"}
          }
        },
        {
          "data": {"values": [{}]},
          "mark": {"type": "rule", "color": "#ffffff", "strokeWidth": 2, "xOffset": -11.5, "yOffset": -11.5, "y2Offset": 11.5},
          "encoding": {
            "x": {"datum": "Sarcopenia", "type": "nominal", "axis": null},
            "y": {"datum": "5-aminolevulinic acid + sodium\nferrous citrate + zinc yeast", "type": "nominal", "axis": null},
            "y2": {"datum": "Vitamins"}
          }
        },
        {
          "data": {"values": [{}]},
          "mark": {"type": "text", "text": "Max", "dx": 26.5, "dy": 75.5, "font": "Liberation Sans", "fontSize": 11, "color": "#222"},
          "encoding": {"x": {"datum": "Total", "type": "nominal", "axis": null}, "y": {"datum": "5-aminolevulinic acid + sodium\nferrous citrate + zinc yeast", "type": "nominal", "axis": null}}
        },
        {
          "data": {"values": [{}]},
          "mark": {"type": "text", "text": "Min", "dx": 26.5, "dy": 241.5, "font": "Liberation Sans", "fontSize": 11, "color": "#222"},
          "encoding": {"x": {"datum": "Total", "type": "nominal", "axis": null}, "y": {"datum": "5-aminolevulinic acid + sodium\nferrous citrate + zinc yeast", "type": "nominal", "axis": null}}
        },
        {
          "data": {"values": [{}]},
          "mark": {"type": "rule", "color": "#222", "strokeWidth": 1, "xOffset": 32.5, "yOffset": 84.5, "y2Offset": 234.5},
          "encoding": {"x": {"datum": "Total", "type": "nominal", "axis": null}, "y": {"datum": "5-aminolevulinic acid + sodium\nferrous citrate + zinc yeast", "type": "nominal", "axis": null}, "y2": {"datum": "5-aminolevulinic acid + sodium\nferrous citrate + zinc yeast"}}
        },
        {
          "data": {"values": [{}]},
          "mark": {"type": "point", "shape": "triangle-up", "filled": true, "opacity": 1, "size": 22, "color": "#222", "xOffset": 32.5, "yOffset": 83},
          "encoding": {"x": {"datum": "Total", "type": "nominal", "axis": null}, "y": {"datum": "5-aminolevulinic acid + sodium\nferrous citrate + zinc yeast", "type": "nominal", "axis": null}}
        }
      ]
    },
    {
      "width": 579, "height": 486,
      "title": {"text": "(B)", "anchor": "start", "frame": "group", "offset": -34, "dx": 7, "fontSize": 26, "fontWeight": "normal", "font": "Liberation Sans"},
      "data": {"name": "B"},
      "resolve": {"axis": {"x": "independent", "y": "independent"}},
      "layer": [
        {
          "mark": {"type": "rect"},
          "encoding": {
            "x": {"field": "c", "type": "nominal",
              "scale": {"domain": ["Cancer","Cardiovascular\ndisease","Chronic kidney\ndisease","Chronic liver\ndisease","Critical illness","Hospitalization","Low testosterone","Musculoskeletal\nconditions","Obesity &\nmetabolic diseases","Total"], "range": [183, 493], "paddingInner": 0, "paddingOuter": 0},
              "axis": {"orient": "top", "offset": -107, "title": null, "labelAngle": -60, "labelAlign": "left", "labelBaseline": {"condition": {"test": "indexof(datum.value, '\\n') >= 0", "value": "middle"}, "value": "bottom"}, "labelFont": "DejaVu Sans", "labelFontSize": 12, "labelLineHeight": 12.5, "labelPadding": 2, "tickSize": 4, "labelLimit": 1000, "labelExpr": "split(datum.label, '\\n')"}},
            "y": {"field": "t", "type": "nominal",
              "scale": {"domain": ["Amino acid (BCAA)","Amino acid (BCAA) +\nomega-3 fatty acids","Amino acid mixture","Amino acid mixture\n(keto amino acid)","Amino acid mixture +\nwhey protein + creatine","Protein supplement","Protein supplement\n(lyophilized protein)","Protein supplement\n(pea protein)","Protein supplement\n(whey protein)","Protein supplement\n(whey protein) + creatine","Protein supplement\n+ vitamin D"], "range": [107, 447], "paddingInner": 0, "paddingOuter": 0},
              "axis": {"orient": "left", "offset": -183, "title": ["Type of protein or", "amino acid supplement"], "titleAngle": 0, "titleAlign": "center", "titleBaseline": "top", "titleX": -78, "titleY": 447, "titleLineHeight": 17, "titleFont": "Liberation Sans", "titleFontSize": 16.5, "titleFontWeight": "bold", "labelFont": "DejaVu Sans", "labelFontSize": 11.5, "labelLineHeight": 12, "labelPadding": 2, "tickSize": 4, "labelLimit": 1000, "labelExpr": "split(datum.label, '\\n')"}},
            "color": {"field": "n", "type": "quantitative",
              "scale": {"domain": [0, 12], "interpolate": "rgb", "range": ["#30123b","#3e40a0","#4660c8","#4a80d8","#3e9ee4","#35b6e0","#36c8bc","#46d0a0","#60d488","#80d664","#a4d640","#c2d83a","#dcd43a","#eebc36","#f6a030","#f07e26","#e45a1c","#cc3a12","#b02210","#941208","#7a0403"]},
              "legend": {"orient": "none", "legendX": 503, "legendY": 196, "direction": "vertical", "title": "Number of trials", "titleOrient": "left", "titleAnchor": "middle", "titleFont": "Liberation Sans", "titleFontSize": 13, "titleFontWeight": "bold", "titlePadding": 8.5, "gradientLength": 170, "gradientThickness": 24, "gradientStrokeColor": "#222", "gradientStrokeWidth": 0.8, "values": [0, 2, 4, 6, 8, 10, 12], "labelFont": "DejaVu Sans", "labelFontSize": 10.5, "labelOffset": 7, "labelOverlap": false, "padding": 0}}
          }
        },
        {
          "mark": {"type": "text", "font": "DejaVu Sans", "fontSize": 9.5},
          "encoding": {
            "x": {"field": "c", "type": "nominal", "axis": {"orient": "bottom", "offset": -39, "values": ["Critical illness"], "labelExpr": "'Clinical conditions'", "labelOffset": 15.5, "ticks": false, "title": null, "labelAngle": 0, "labelAlign": "center", "labelBaseline": "top", "labelPadding": 5, "labelLimit": 1000, "labelFont": "Liberation Sans", "labelFontSize": 16.5, "labelFontWeight": "bold", "labelColor": "#000"}},
            "y": {"field": "t", "type": "nominal", "axis": {"orient": "right", "offset": -86, "labels": false, "ticks": false, "title": null}},
            "text": {"field": "n", "type": "quantitative"},
            "color": {"condition": {"test": "datum.n >= 4 && datum.n <= 9", "value": "#1d2b2b"}, "value": "#dedede"}
          }
        },
        {
          "data": {"values": [{}]},
          "mark": {"type": "text", "text": "Max", "dx": 38.5, "dy": 66.5, "font": "Liberation Sans", "fontSize": 10.5, "color": "#222"},
          "encoding": {"x": {"datum": "Total", "type": "nominal", "axis": null}, "y": {"datum": "Amino acid (BCAA)", "type": "nominal", "axis": null}}
        },
        {
          "data": {"values": [{}]},
          "mark": {"type": "text", "text": "Min", "dx": 38.5, "dy": 253.5, "font": "Liberation Sans", "fontSize": 10.5, "color": "#222"},
          "encoding": {"x": {"datum": "Total", "type": "nominal", "axis": null}, "y": {"datum": "Amino acid (BCAA)", "type": "nominal", "axis": null}}
        },
        {
          "data": {"values": [{}]},
          "mark": {"type": "rule", "color": "#222", "strokeWidth": 1, "xOffset": 42.5, "yOffset": 75.5, "y2Offset": 239.5},
          "encoding": {"x": {"datum": "Total", "type": "nominal", "axis": null}, "y": {"datum": "Amino acid (BCAA)", "type": "nominal", "axis": null}, "y2": {"datum": "Amino acid (BCAA)"}}
        },
        {
          "data": {"values": [{}]},
          "mark": {"type": "point", "shape": "triangle-up", "filled": true, "opacity": 1, "size": 22, "color": "#222", "xOffset": 42.5, "yOffset": 74},
          "encoding": {"x": {"datum": "Total", "type": "nominal", "axis": null}, "y": {"datum": "Amino acid (BCAA)", "type": "nominal", "axis": null}}
        }
      ]
    },
    {
      "width": 499, "height": 550,
      "title": {"text": "(C)", "anchor": "start", "frame": "group", "offset": -34, "dx": 9, "fontSize": 26, "fontWeight": "normal", "font": "Liberation Sans"},
      "data": {"name": "C"},
      "resolve": {"axis": {"x": "independent", "y": "independent"}},
      "layer": [
        {
          "mark": {"type": "rect"},
          "encoding": {
            "x": {"field": "c", "type": "nominal",
              "scale": {"domain": ["Sarcopenia","Low muscle mass\nor sarcopenia","(Pre)frailty","Weight loss OR\nlow BMI OR malnutrition","Older adults without\nmuscle or health conditions","Total"], "range": [222, 416], "paddingInner": 0, "paddingOuter": 0},
              "axis": {"orient": "top", "offset": -156, "title": null, "labelAngle": -60, "labelAlign": "left", "labelBaseline": {"condition": {"test": "indexof(datum.value, '\\n') >= 0", "value": "middle"}, "value": "bottom"}, "labelFont": "DejaVu Sans", "labelFontSize": 12, "labelLineHeight": 12.5, "labelPadding": 2, "tickSize": 4, "labelLimit": 1000, "labelExpr": "split(datum.label, '\\n')"}},
            "y": {"field": "t", "type": "nominal",
              "scale": {"domain": ["Amino acid mixture\n+ tea catechins","Multi-ingredient supplement\n(CHO, amino acid,\ncaffeine, guarana, magnesium)","Pre-/probiotic supplement\n+ amino acid (BCAA)","Probiotic supplement\n+ amino acid (leucine)\n+ omega-3 fatty acids","Protein supplement (collagen)\n+ vitamins","Protein supplement\n(whey protein)","Protein supplement (whey protein)\n+ food-rich product (high CHO)","Protein supplement (whey protein)\n+ omega-3 fatty acids","Protein supplement (whey protein)\n+ potassium bicarbonate","Protein supplement + BCAA\n+ amino acids","Protein supplement\n+ omega-3 fatty acids"], "range": [156, 512], "paddingInner": 0, "paddingOuter": 0},
              "axis": {"orient": "left", "offset": -222, "title": ["Type of protein or", "amino acid supplement"], "titleAngle": 0, "titleAlign": "center", "titleBaseline": "top", "titleX": -102, "titleY": 510, "titleLineHeight": 17, "titleFont": "Liberation Sans", "titleFontSize": 17, "titleFontWeight": "bold", "labelFont": "DejaVu Sans", "labelFontSize": 11.2, "labelLineHeight": 10.6, "labelPadding": 2, "tickSize": 4, "labelLimit": 1000, "labelExpr": "split(datum.label, '\\n')"}},
            "color": {"field": "n", "type": "quantitative",
              "scale": {"domain": [0, 2], "interpolate": "rgb", "range": ["#30123b","#3e40a0","#4660c8","#4a80d8","#3e9ee4","#35b6e0","#36c8bc","#46d0a0","#60d488","#80d664","#a4d640","#c2d83a","#dcd43a","#eebc36","#f6a030","#f07e26","#e45a1c","#cc3a12","#b02210","#941208","#7a0403"]},
              "legend": {"orient": "none", "legendX": 425, "legendY": 241, "direction": "vertical", "title": "Number of trials", "titleOrient": "left", "titleAnchor": "middle", "titleFont": "Liberation Sans", "titleFontSize": 13.5, "titleFontWeight": "bold", "titlePadding": 11, "gradientLength": 194, "gradientThickness": 26, "gradientStrokeColor": "#222", "gradientStrokeWidth": 0.8, "values": [0, 1, 2], "labelFont": "DejaVu Sans", "labelFontSize": 12, "labelOffset": 8, "labelOverlap": false, "padding": 0}}
          }
        },
        {
          "mark": {"type": "text", "font": "DejaVu Sans", "fontSize": 10.5},
          "encoding": {
            "x": {"field": "c", "type": "nominal", "axis": {"orient": "bottom", "offset": -38, "values": ["(Pre)frailty"], "labelExpr": "'Non-clinical conditions'", "labelOffset": 16.15, "ticks": false, "title": null, "labelAngle": 0, "labelAlign": "center", "labelBaseline": "top", "labelPadding": 5, "labelLimit": 1000, "labelFont": "Liberation Sans", "labelFontSize": 17, "labelFontWeight": "bold", "labelColor": "#000"}},
            "y": {"field": "t", "type": "nominal", "axis": {"orient": "right", "offset": -83, "labels": false, "ticks": false, "title": null}},
            "text": {"field": "n", "type": "quantitative"},
            "color": {"condition": {"test": "datum.n == 1", "value": "#1d2b2b"}, "value": "#dedede"}
          }
        },
        {
          "data": {"values": [{}]},
          "mark": {"type": "rule", "color": "#ffffff", "strokeWidth": 3, "xOffset": -16.15, "yOffset": -16.2, "y2Offset": 16.2},
          "encoding": {
            "x": {"datum": "Total", "type": "nominal", "axis": null},
            "y": {"datum": "Amino acid mixture\n+ tea catechins", "type": "nominal", "axis": null},
            "y2": {"datum": "Protein supplement\n+ omega-3 fatty acids"}
          }
        },
        {
          "data": {"values": [{}]},
          "mark": {"type": "text", "text": "Max", "dx": 39.35, "dy": 61.8, "font": "Liberation Sans", "fontSize": 11, "color": "#222"},
          "encoding": {"x": {"datum": "Total", "type": "nominal", "axis": null}, "y": {"datum": "Amino acid mixture\n+ tea catechins", "type": "nominal", "axis": null}}
        },
        {
          "data": {"values": [{}]},
          "mark": {"type": "text", "text": "Min", "dx": 39.35, "dy": 269.8, "font": "Liberation Sans", "fontSize": 11, "color": "#222"},
          "encoding": {"x": {"datum": "Total", "type": "nominal", "axis": null}, "y": {"datum": "Amino acid mixture\n+ tea catechins", "type": "nominal", "axis": null}}
        },
        {
          "data": {"values": [{}]},
          "mark": {"type": "rule", "color": "#222", "strokeWidth": 1, "xOffset": 41.35, "yOffset": 70.8, "y2Offset": 258.8},
          "encoding": {"x": {"datum": "Total", "type": "nominal", "axis": null}, "y": {"datum": "Amino acid mixture\n+ tea catechins", "type": "nominal", "axis": null}, "y2": {"datum": "Amino acid mixture\n+ tea catechins"}}
        },
        {
          "data": {"values": [{}]},
          "mark": {"type": "point", "shape": "triangle-up", "filled": true, "opacity": 1, "size": 22, "color": "#222", "xOffset": 41.35, "yOffset": 69.5},
          "encoding": {"x": {"datum": "Total", "type": "nominal", "axis": null}, "y": {"datum": "Amino acid mixture\n+ tea catechins", "type": "nominal", "axis": null}}
        }
      ]
    },
    {
      "width": 447, "height": 308,
      "title": {"text": "(D)", "anchor": "start", "frame": "group", "offset": -35, "dx": 8, "fontSize": 26, "fontWeight": "normal", "font": "Liberation Sans"},
      "data": {"name": "D"},
      "resolve": {"axis": {"x": "independent", "y": "independent"}},
      "layer": [
        {
          "mark": {"type": "rect"},
          "encoding": {
            "x": {"field": "c", "type": "nominal",
              "scale": {"domain": ["Cancer","Chronic kidney disease","Chronic liver disease","Lung disease","Musculoskeletal diseases","Obesity & metabolic diseases","Older adults without muscle\nor health conditions","Total"], "range": [163, 345], "paddingInner": 0, "paddingOuter": 0},
              "axis": {"orient": "top", "offset": -167, "title": null, "labelAngle": -60, "labelAlign": "left", "labelBaseline": {"condition": {"test": "indexof(datum.value, '\\n') >= 0", "value": "middle"}, "value": "bottom"}, "labelFont": "DejaVu Sans", "labelFontSize": 10.5, "labelLineHeight": 11.5, "labelPadding": 2, "tickSize": 4, "labelLimit": 1000, "labelExpr": "split(replace(datum.label, '\\n', '\\n' + pad('', 13, '\u00a0')), '\\n')"}},
            "y": {"field": "t", "type": "nominal",
              "scale": {"domain": ["ONS","High-protein ONS","Omega-3 enriched ONS","HMB-enriched ONS"], "range": [167, 258], "paddingInner": 0, "paddingOuter": 0},
              "axis": {"orient": "left", "offset": -163, "title": "Type of ONS", "titleAngle": 0, "titleAlign": "center", "titleBaseline": "middle", "titleX": -57, "titleY": 266, "titleFont": "Liberation Sans", "titleFontSize": 11.5, "titleFontWeight": "bold", "labelFont": "DejaVu Sans", "labelFontSize": 9.5, "labelPadding": 2, "tickSize": 4, "labelLimit": 1000}},
            "color": {"field": "n", "type": "quantitative",
              "scale": {"domain": [0, 7], "interpolate": "rgb", "range": ["#30123b","#3e40a0","#4660c8","#4a80d8","#3e9ee4","#35b6e0","#36c8bc","#46d0a0","#60d488","#80d664","#a4d640","#c2d83a","#dcd43a","#eebc36","#f6a030","#f07e26","#e45a1c","#cc3a12","#b02210","#941208","#7a0403"]},
              "legend": {"orient": "none", "legendX": 358.5, "legendY": 166, "direction": "vertical", "title": "Number of trials", "titleOrient": "left", "titleAnchor": "middle", "titleFont": "Liberation Sans", "titleFontSize": 7.5, "titleFontWeight": "bold", "titlePadding": 7, "gradientLength": 92, "gradientThickness": 17, "gradientStrokeColor": "#222", "gradientStrokeWidth": 0.8, "values": [0, 1, 2, 3, 4, 5, 6, 7], "labelFont": "DejaVu Sans", "labelFontSize": 9.5, "labelOffset": 5, "labelOverlap": false, "padding": 0}}
          }
        },
        {
          "transform": [{"filter": "!datum.blank"}],
          "mark": {"type": "text", "font": "DejaVu Sans", "fontSize": 11},
          "encoding": {
            "x": {"field": "c", "type": "nominal", "axis": {"orient": "bottom", "offset": -50, "values": ["Chronic liver disease", "Older adults without muscle\nor health conditions"], "labelExpr": "datum.value == 'Chronic liver disease' ? 'Clinical conditions' : ['Non-clinical', 'conditions']", "ticks": false, "title": null, "labelAngle": 0, "labelAlign": "center", "labelBaseline": "top", "labelPadding": 2, "labelLimit": 1000, "labelLineHeight": 13, "labelFont": "Liberation Sans", "labelFontSize": 11.5, "labelFontWeight": "bold", "labelColor": "#000"}},
            "y": {"field": "t", "type": "nominal", "axis": {"orient": "right", "offset": -102, "labels": false, "ticks": false, "title": null}},
            "text": {"field": "n", "type": "quantitative"},
            "color": {"condition": {"test": "datum.n >= 2 && datum.n <= 5", "value": "#1d2b2b"}, "value": "#dedede"}
          }
        },
        {
          "data": {"values": [{"c": "Older adults without muscle\nor health conditions"}, {"c": "Total"}]},
          "mark": {"type": "rule", "color": "#ffffff", "strokeWidth": 2.5, "xOffset": -11.375, "yOffset": -11.375, "y2Offset": 11.375},
          "encoding": {
            "x": {"field": "c", "type": "nominal", "axis": null},
            "y": {"datum": "ONS", "type": "nominal", "axis": null},
            "y2": {"datum": "HMB-enriched ONS"}
          }
        },
        {
          "data": {"values": [{}]},
          "mark": {"type": "text", "text": "Max", "dx": 32.4, "dy": -19.4, "font": "Liberation Sans", "fontSize": 6.5, "color": "#222"},
          "encoding": {"x": {"datum": "Total", "type": "nominal", "axis": null}, "y": {"datum": "ONS", "type": "nominal", "axis": null}}
        },
        {
          "data": {"values": [{}]},
          "mark": {"type": "text", "text": "Min", "dx": 32.4, "dy": 83.6, "font": "Liberation Sans", "fontSize": 6.5, "color": "#222"},
          "encoding": {"x": {"datum": "Total", "type": "nominal", "axis": null}, "y": {"datum": "ONS", "type": "nominal", "axis": null}}
        },
        {
          "data": {"values": [{}]},
          "mark": {"type": "rule", "color": "#222", "strokeWidth": 0.8, "xOffset": 34, "yOffset": -14.5, "y2Offset": 80.6},
          "encoding": {"x": {"datum": "Total", "type": "nominal", "axis": null}, "y": {"datum": "ONS", "type": "nominal", "axis": null}, "y2": {"datum": "ONS"}}
        },
        {
          "data": {"values": [{}]},
          "mark": {"type": "point", "shape": "triangle-up", "filled": true, "opacity": 1, "size": 10, "color": "#222", "xOffset": 34, "yOffset": -15.5},
          "encoding": {"x": {"datum": "Total", "type": "nominal", "axis": null}, "y": {"datum": "ONS", "type": "nominal", "axis": null}}
        }
      ]
    }
  ]
}
